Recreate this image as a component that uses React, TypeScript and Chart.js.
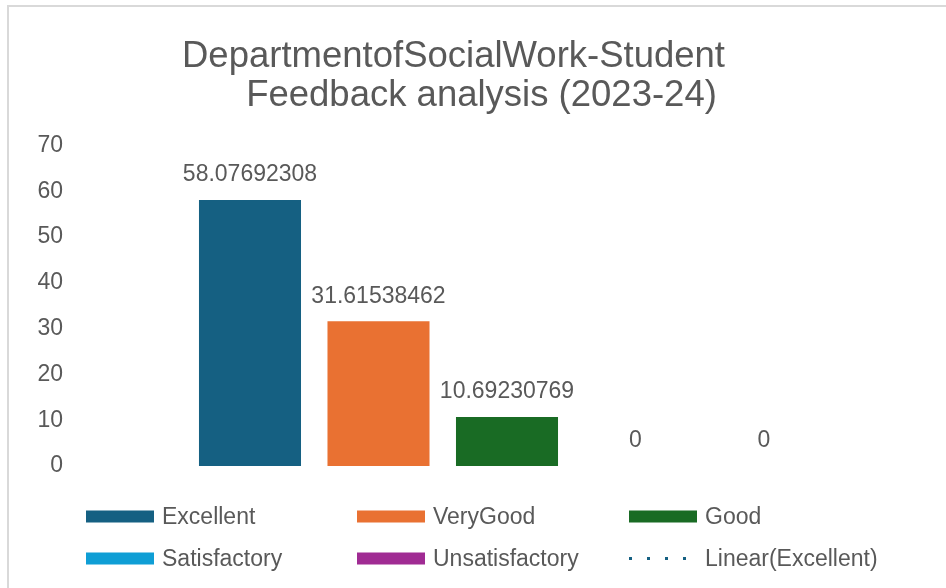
import React, { useEffect, useRef } from "react";
import { Chart, registerables } from "chart.js";

Chart.register(...registerables);

const categories = [""];
const seriesNames = ["Excellent", "VeryGood", "Good", "Satisfactory", "Unsatisfactory"];
const seriesValues = [58.07692308, 31.61538462, 10.69230769, 0, 0];
const seriesLabels = ["58.07692308", "31.61538462", "10.69230769", "0", "0"];
const seriesColors = ["#156082", "#E97132", "#196B24", "#0F9ED5", "#A02B93"];
const trendName = "Linear(Excellent)";
const titleLines = ["DepartmentofSocialWork-Student", "Feedback analysis (2023-24)"];
const yTicks = [0, 10, 20, 30, 40, 50, 60, 70];

const FONT = "'Liberation Sans', Arial, sans-serif";
const TEXT = "#595959";

const framePlugin = {
  id: "frame",
  beforeDraw(chart: any) {
    const ctx = chart.ctx;
    ctx.save();
    ctx.fillStyle = "#ffffff";
    ctx.fillRect(0, 0, chart.width, chart.height);
    ctx.strokeStyle = "#d9d9d9";
    ctx.lineWidth = 2;
    ctx.beginPath();
    ctx.moveTo(8, chart.height + 2);
    ctx.lineTo(8, 6);
    ctx.lineTo(chart.width + 2, 6);
    ctx.stroke();
    ctx.restore();
  },
};

const titlePlugin = {
  id: "customTitle",
  afterDraw(chart: any) {
    const ctx = chart.ctx;
    ctx.save();
    ctx.fillStyle = TEXT;
    ctx.font = `36.5px ${FONT}`;
    ctx.textAlign = "center";
    ctx.textBaseline = "alphabetic";
    ctx.fillText(titleLines[0], 453.5, 67);
    ctx.fillText(titleLines[1], 481.5, 106);
    ctx.restore();
  },
};

const valueLabelPlugin = {
  id: "valueLabels",
  afterDatasetsDraw(chart: any) {
    const ctx = chart.ctx;
    ctx.save();
    ctx.fillStyle = TEXT;
    ctx.font = `23px ${FONT}`;
    ctx.textAlign = "center";
    ctx.textBaseline = "middle";
    chart.data.datasets.forEach((ds: any, i: number) => {
      const meta = chart.getDatasetMeta(i);
      meta.data.forEach((el: any) => {
        ctx.fillText(seriesLabels[i], el.x, el.y - 25);
      });
    });
    ctx.restore();
  },
};

const legendPlugin = {
  id: "gridLegend",
  afterDraw(chart: any) {
    const ctx = chart.ctx;
    const colX = [86, 357, 629];
    const rowY = [516.5, 558.5];
    const items = [
      ...chart.data.datasets.map((ds: any) => ({ text: ds.label, color: ds.backgroundColor, dotted: false })),
      { text: trendName, color: seriesColors[0], dotted: true },
    ];
    ctx.save();
    ctx.font = `23px ${FONT}`;
    ctx.textBaseline = "middle";
    ctx.textAlign = "left";
    items.forEach((it: any, i: number) => {
      const x = colX[i % 3];
      const y = rowY[Math.floor(i / 3)];
      if (it.dotted) {
        ctx.strokeStyle = it.color;
        ctx.lineWidth = 3;
        ctx.setLineDash([3, 15]);
        ctx.beginPath();
        ctx.moveTo(x, y);
        ctx.lineTo(x + 68, y);
        ctx.stroke();
        ctx.setLineDash([]);
      } else {
        ctx.fillStyle = it.color;
        ctx.fillRect(x, y - 6, 68, 12);
      }
      ctx.fillStyle = TEXT;
      ctx.fillText(it.text, x + 76, y + 1);
    });
    ctx.restore();
  },
};

export default function App() {
  const ref = useRef<HTMLCanvasElement | null>(null);

  useEffect(() => {
    if (!ref.current) return;
    const chart = new Chart(ref.current, {
      type: "bar",
      data: {
        labels: categories,
        datasets: seriesNames.map((name, i) => ({
          label: name,
          data: [seriesValues[i]],
          backgroundColor: seriesColors[i],
          borderWidth: 0,
          categoryPercentage: 0.7318,
          barPercentage: 0.794,
        })),
      },
      options: {
        responsive: false,
        animation: false,
        layout: { padding: { top: 145.5, left: 38, right: 0, bottom: 122 } },
        plugins: {
          legend: { display: false },
          title: { display: false },
          tooltip: { enabled: false },
        },
        scales: {
          x: { display: false },
          y: {
            min: 0,
            max: 70,
            afterFit: (scale: any) => {
              scale.width = 30;
            },
            afterBuildTicks: (scale: any) => {
              scale.ticks = yTicks.map((v) => ({ value: v }));
            },
            grid: { display: false, drawTicks: false },
            border: { display: false },
            ticks: {
              padding: 5,
              color: TEXT,
              font: { family: FONT, size: 23 },
            },
          },
        },
      },
      plugins: [framePlugin, titlePlugin, valueLabelPlugin, legendPlugin],
    });
    return () => chart.destroy();
  }, []);

  return (
    <div style={{ position: "absolute", left: 0, top: 0, width: 946, height: 588, background: "#fff" }}>
      <canvas ref={ref} width={946} height={588} style={{ width: 946, height: 588, display: "block" }} />
    </div>
  );
}
